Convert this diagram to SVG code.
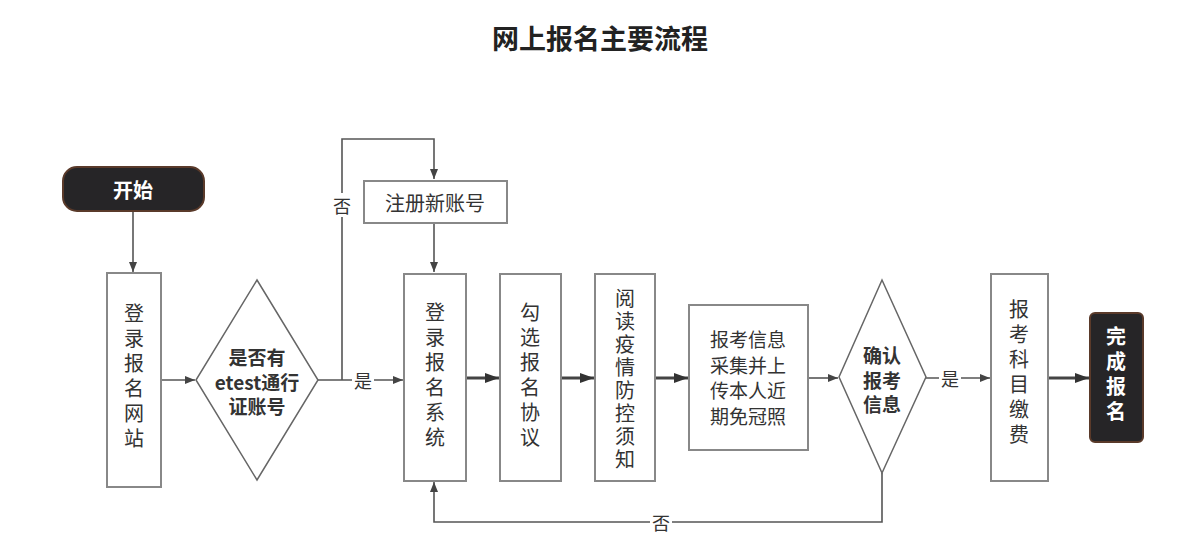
<svg xmlns="http://www.w3.org/2000/svg" width="1200" height="550" viewBox="0 0 1200 550">
<style>
text{font-family:"Noto Sans CJK SC","Noto Sans",sans-serif;fill:#333;text-anchor:middle;dominant-baseline:central}
.t{font-size:20px}
.v{font-size:20px;writing-mode:vertical-rl;letter-spacing:5px}
.title{font-size:27px;font-weight:bold;fill:#222}
.box{fill:#fff;stroke:#888;stroke-width:2}
.dark{fill:#262527;stroke:#5a3a2a;stroke-width:2}
.wt{fill:#fff;font-weight:bold;font-size:20px}
.dia{font-size:19px;font-weight:bold;fill:#333}
.ln{fill:none;stroke:#555;stroke-width:1.6}
.th{fill:none;stroke:#444;stroke-width:3}
.lbl{font-size:18px}
</style>
<defs>
<marker id="a" viewBox="0 0 10 10" refX="10" refY="5" markerWidth="10" markerHeight="10" markerUnits="userSpaceOnUse" orient="auto"><path d="M0,1L10,5L0,9z" fill="#444"/></marker>
<marker id="b" viewBox="0 0 10 10" refX="10" refY="5" markerWidth="14" markerHeight="14" markerUnits="userSpaceOnUse" orient="auto"><path d="M0,1.5L10,5L0,8.5z" fill="#333"/></marker>
</defs>
<text class="title" x="600" y="37">网上报名主要流程</text>
<g id="connectors">
<path class="ln" d="M133,211V272" marker-end="url(#a)"/>
<path class="ln" d="M161,380H195" marker-end="url(#a)"/>
<path class="ln" d="M318,380H403" marker-end="url(#a)"/>
<path class="ln" d="M342,380V139H434V179" marker-end="url(#a)"/>
<path class="ln" d="M434,223V272" marker-end="url(#a)"/>
<path class="th" d="M466,378H499" marker-end="url(#b)"/>
<path class="th" d="M561,378H594" marker-end="url(#b)"/>
<path class="th" d="M655,378H688" marker-end="url(#b)"/>
<path class="ln" d="M808,378H838" marker-end="url(#a)"/>
<path class="ln" d="M926,378H990" marker-end="url(#a)"/>
<path class="th" d="M1048,378H1089" marker-end="url(#b)"/>
<path class="ln" d="M882,473V522H434V482" marker-end="url(#a)"/>
<rect x="332" y="193" width="20" height="24" fill="#fff"/>
<text class="lbl" x="342" y="205">否</text>
<rect x="352" y="369" width="22" height="22" fill="#fff"/>
<text class="lbl" x="363" y="380">是</text>
<rect x="939" y="367" width="22" height="22" fill="#fff"/>
<text class="lbl" x="950" y="378">是</text>
<rect x="650" y="510" width="22" height="24" fill="#fff"/>
<text class="lbl" x="661" y="522">否</text>
</g>
<g id="start">
<rect class="dark" x="63" y="167" width="141" height="44" rx="14"/>
<text class="wt" x="133" y="189">开始</text>
</g>
<g id="n1">
<rect class="box" x="107" y="273" width="54" height="214"/>
<text class="v" x="134" y="378">登录报名网站</text>
</g>
<g id="d1">
<path d="M257,280L318,380L257,480L196,380z" fill="#fff" stroke="#666" stroke-width="1.5"/>
<text class="dia" x="257" y="356">是否有<tspan x="257" dy="24.5">etest通行</tspan><tspan x="257" dy="24.5">证账号</tspan></text>
</g>
<g id="reg">
<rect class="box" x="364" y="181" width="143" height="42"/>
<text class="t" x="435" y="202">注册新账号</text>
</g>
<g id="n2">
<rect class="box" x="404" y="274" width="62" height="207"/>
<text class="v" x="435" y="377">登录报名系统</text>
</g>
<g id="n3">
<rect class="box" x="500" y="274" width="61" height="207"/>
<text class="v" x="530" y="377">勾选报名协议</text>
</g>
<g id="n4">
<rect class="box" x="595" y="274" width="60" height="207"/>
<text class="v" x="625" y="380" style="letter-spacing:3px">阅读疫情防控须知</text>
</g>
<g id="n5">
<rect class="box" x="689" y="305" width="119" height="145"/>
<text x="748" y="338" style="font-size:19px">报考信息<tspan x="748" dy="25.5">采集并上</tspan><tspan x="748" dy="25.5">传本人近</tspan><tspan x="748" dy="25.5">期免冠照</tspan></text>
</g>
<g id="d2">
<path d="M882,280L926,377L882,473L839,377z" fill="#fff" stroke="#666" stroke-width="1.5"/>
<text class="dia" x="882" y="354">确认<tspan x="882" dy="24.5">报考</tspan><tspan x="882" dy="24.5">信息</tspan></text>
</g>
<g id="n6">
<rect class="box" x="991" y="274" width="57" height="207"/>
<text class="v" x="1019" y="374">报考科目缴费</text>
</g>
<g id="end">
<rect class="dark" x="1090" y="313" width="53" height="129" rx="5"/>
<text class="wt" x="1116" y="376" style="writing-mode:vertical-rl;letter-spacing:5px">完成报名</text>
</g>
</svg>
